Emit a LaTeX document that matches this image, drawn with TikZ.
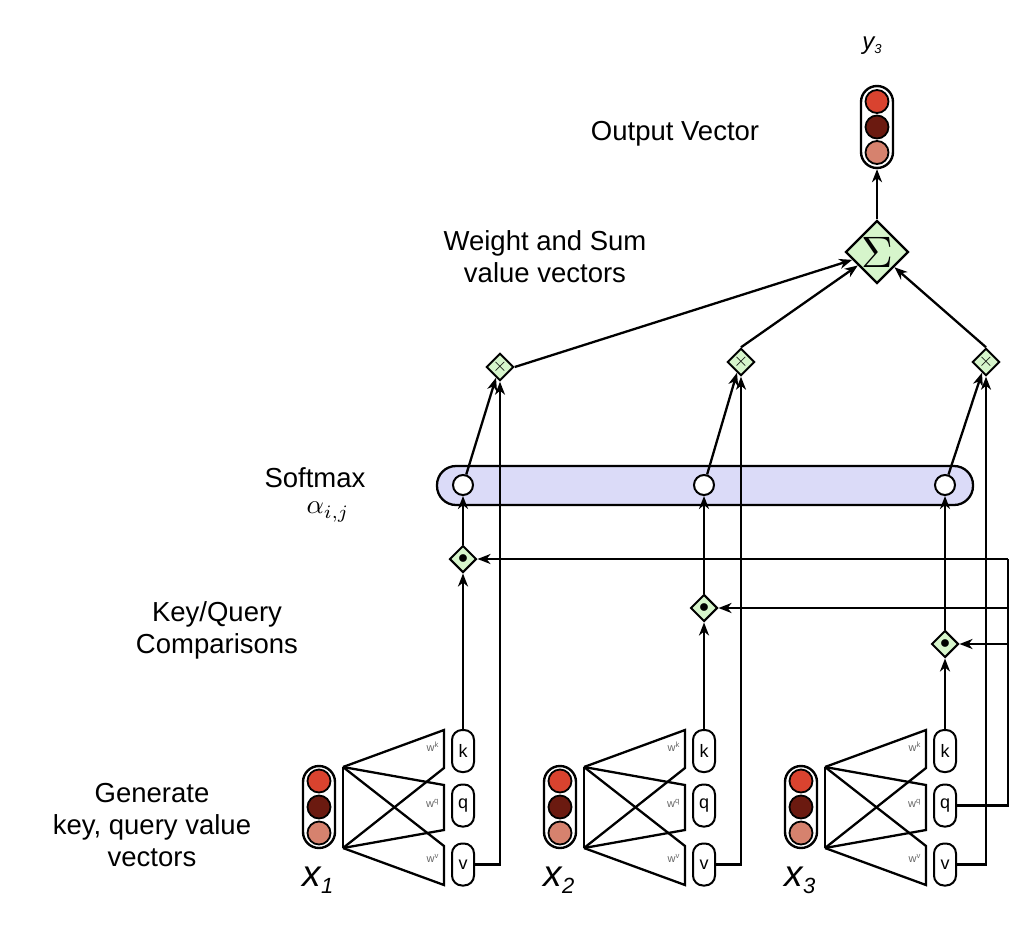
\documentclass[tikz,border=0pt]{standalone}
\usepackage{fontspec}
\setmainfont{Liberation Sans}
\usetikzlibrary{arrows.meta,shapes.geometric,calc}

\definecolor{cred}{HTML}{D9432F}
\definecolor{cdark}{HTML}{6B1A10}
\definecolor{csalmon}{HTML}{D6826E}
\definecolor{opgreen}{HTML}{D6F5CB}
\definecolor{barblue}{HTML}{DBDBF8}
\definecolor{wgray}{HTML}{666666}

\begin{document}
\begin{tikzpicture}[x=1pt,y=-1pt,line width=2.3pt,
  arr/.style={-{Stealth[length=13pt,width=10pt,inset=4pt]}},
  lbl/.style={font=\fontsize{27.5}{32}\selectfont,align=center,inner sep=0pt},
  opsmall/.style={diamond,draw,fill=opgreen,inner sep=0pt,minimum size=27pt,line width=2pt},
  opbig/.style={diamond,draw,fill=opgreen,inner sep=0pt,minimum size=63pt,line width=2.3pt},
  capsule/.style={draw,rounded corners=16pt,minimum width=32pt,minimum height=82pt,inner sep=0pt,line width=2.4pt},
  cell/.style={circle,draw,inner sep=0pt,minimum size=23pt,line width=1.8pt},
  kqv/.style={draw,rounded corners=10pt,minimum width=22pt,minimum height=42pt,inner sep=0pt,
    line width=2pt,font=\fontsize{18}{18}\selectfont},
  wlbl/.style={font=\fontsize{11}{11}\selectfont,text=wgray,inner sep=0pt,anchor=east},
  smc/.style={circle,draw,fill=white,inner sep=0pt,minimum size=20pt,line width=2pt}]
\useasboundingbox (0,0) rectangle (1024,926);

% output vector
\node[capsule] (out) at (877,127) {};
\node[cell,fill=cred] (oa) at (877,101.5) {};
\node[cell,fill=cdark] (ob) at (877,127) {};
\node[cell,fill=csalmon] (oc) at (877,152.5) {};
\node[inner sep=0pt] (ylab) at (872,46)
  {{\fontsize{24}{24}\selectfont\itshape y}\raisebox{-4pt}{\fontsize{13}{13}\selectfont\itshape 3}};

% weighted sum
\node[opbig] (sigma) at (877,252) {\scalebox{4.4}{$\Sigma$}};
\draw[arr] (sigma.north) -- (out.south);

% per-position scaling of the value vectors
\node[opsmall] (m1) at (500,367) {\scalebox{1.9}{$\times$}};
\node[opsmall] (m2) at (741,362) {\scalebox{1.9}{$\times$}};
\node[opsmall] (m3) at (986,362) {\scalebox{1.9}{$\times$}};
\draw[arr] (m1.east) -- (sigma);
\draw[arr] (m2.north) -- (sigma);
\draw[arr] (m3.north) -- (sigma);

% softmax bar
\node[draw,fill=barblue,rounded corners=19pt,minimum width=536pt,minimum height=39pt,
  inner sep=0pt,line width=2.3pt] (bar) at (705,485.5) {};
\node[smc] (s1) at (463,485) {};
\node[smc] (s2) at (704,485) {};
\node[smc] (s3) at (945,485) {};
\draw[arr] (s1) -- ($(m1.south)+(-4,-4)$);
\draw[arr] (s2) -- ($(m2.south)+(-4,-4)$);
\draw[arr] (s3) -- ($(m3.south)+(-4,-4)$);

% key/query comparisons
\node[opsmall] (d1) at (463,559) {\scalebox{2}{$\bullet$}};
\node[opsmall] (d2) at (704,608) {\scalebox{2}{$\bullet$}};
\node[opsmall] (d3) at (945,644) {\scalebox{2}{$\bullet$}};
\draw[arr] (d1.north) -- (s1.south);
\draw[arr] (d2.north) -- (s2.south);
\draw[arr] (d3.north) -- (s3.south);

% input blocks: vector, projections, key/query/value
\foreach \i/\dx in {1/0,2/241,3/482}{
  \node[capsule] (xv\i) at (319+\dx,807) {};
  \node[cell,fill=cred] (xa\i) at (319+\dx,781) {};
  \node[cell,fill=cdark] (xb\i) at (319+\dx,807) {};
  \node[cell,fill=csalmon] (xc\i) at (319+\dx,833) {};
  \node[inner sep=0pt] (xl\i) at (318+\dx,880)
    {{\fontsize{37}{37}\selectfont\itshape x}\raisebox{-7pt}{\fontsize{22}{22}\selectfont\itshape \i}};
  % projection fans
  \draw[line join=miter] (343+\dx,767) -- (343+\dx,848);
  \draw[line join=miter] (343+\dx,767) -- (444+\dx,730) -- (444+\dx,768) -- (343+\dx,848);
  \draw[line join=miter] (343+\dx,767) -- (444+\dx,785) -- (444+\dx,830) -- (343+\dx,848);
  \draw[line join=miter] (343+\dx,767) -- (444+\dx,846) -- (444+\dx,885) -- (343+\dx,848);
  \node[wlbl] (wk\i) at (440+\dx,747) {w\textsuperscript{k}};
  \node[wlbl] (wq\i) at (440+\dx,803) {w\textsuperscript{q}};
  \node[wlbl] (wv\i) at (440+\dx,858) {w\textsuperscript{v}};
  \node[kqv] (k\i) at (463+\dx,751) {k};
  \node[kqv] (q\i) at (463+\dx,805.5) {q};
  \node[kqv] (v\i) at (463+\dx,864.5) {v};
  \draw[arr] (k\i.north) -- (d\i.south);
  \draw[arr] (v\i.east) -| (m\i.south);
}

% query of the third position fed to every comparison
\coordinate (qa) at (1008,559);
\coordinate (qb) at (1008,608);
\coordinate (qc) at (1008,644);
\draw (q3.east) -| (qa);
\draw[arr] (qa) -- (d1.east);
\draw[arr] (qb) -- (d2.east);
\draw[arr] (qc) -- (d3.east);

% captions
\node[lbl] (t1) at (675,134) {Output Vector};
\node[lbl] (t2) at (545,257) {Weight and Sum\\value vectors};
\node[lbl] (t3) at (315,478) {Softmax};
\node[inner sep=0pt] (t4) at (328,512) {\scalebox{2.7}{$\alpha_{i,j}$}};
\node[lbl] (t5) at (217,630) {Key/Query\\Comparisons};
\node[lbl] (t6) at (152,825) {Generate\\key, query value\\vectors};
\end{tikzpicture}
\end{document}
